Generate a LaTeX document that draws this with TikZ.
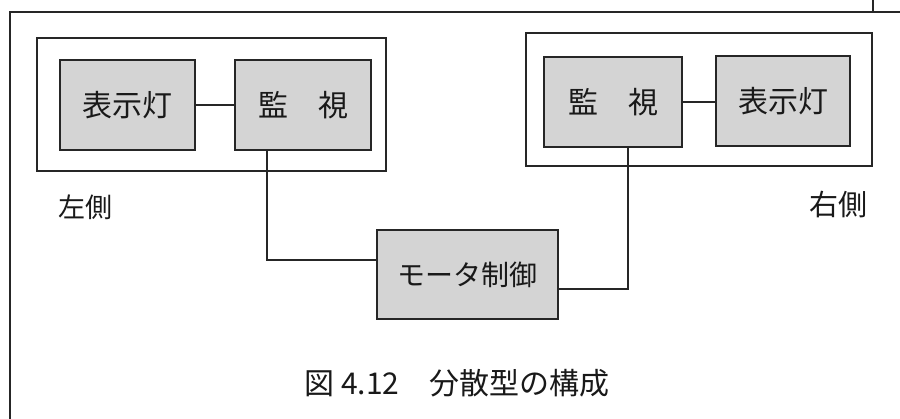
\documentclass[tikz,border=0pt]{standalone}
\usepackage{fontspec}
\setmainfont{Noto Sans CJK JP}
\usetikzlibrary{calc}
\tikzset{
  unitbox/.style={draw=black!85, line width=2pt, fill=black!17, inner sep=0pt,
    minimum height=90pt, font=\fontsize{30pt}{32pt}\selectfont, text=black!90},
  groupbox/.style={draw=black!85, line width=1.6pt},
  wire/.style={draw=black!85, line width=1.3pt},
  lbl/.style={inner sep=0pt, text=black!90},
}
\begin{document}
\begin{tikzpicture}[x=1pt,y=-1pt]
\useasboundingbox (0,0) rectangle (900,419);
% outer partial frame
\draw[line width=1.6pt, black!85] (10,419) -- (10,12) -- (900,12);
\draw[line width=1.6pt, black!85] (873,0) -- (873,12);
% group boxes
\draw[groupbox] (37,38) rectangle (386,171);
\draw[groupbox] (526,33) rectangle (872,166);
% units
\node[unitbox, minimum width=135pt] (lampL) at (127.5,105) {表示灯};
\node[unitbox, minimum width=136pt] (monL) at (303,105) {監　視};
\node[unitbox, minimum width=138pt] (monR) at (613,102) {監　視};
\node[unitbox, minimum width=134pt] (lampR) at (783,101) {表示灯};
\node[unitbox, minimum width=181pt, minimum height=89pt, font=\fontsize{28pt}{30pt}\selectfont] (motor) at (467.5,274.5) {モータ制御};
% labels
\node[lbl, font=\fontsize{27pt}{29pt}\selectfont] (left) at (85,207) {左側};
\node[lbl, font=\fontsize{29pt}{31pt}\selectfont] (right) at (838,204) {右側};
\node[lbl, font=\fontsize{30pt}{32pt}\selectfont] (cap) at (457,383) {図 4.12　分散型の構成};
% connectors
\draw[wire] (lampL.east) -- (lampL.east -| monL.west);
\draw[wire] (monR.east) -- (monR.east -| lampR.west);
\draw[wire] ([xshift=-36pt]monL.south) |- ([yshift=14.5pt]motor.west);
\draw[wire] ([yshift=-14.5pt]motor.east) -| ([xshift=15pt]monR.south);
\end{tikzpicture}
\end{document}
